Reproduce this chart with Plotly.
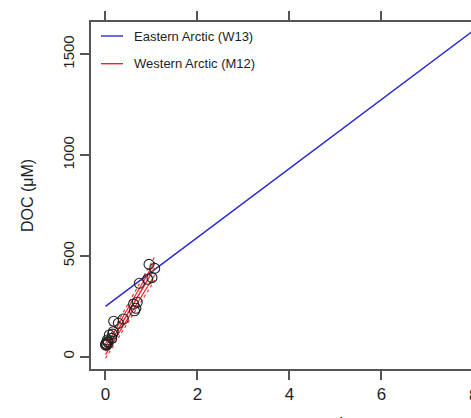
import plotly.graph_objects as go

# Observations (Western Arctic, M12)
acdom = [0.946, 1.07, 1.01, 0.917, 0.735, 0.69, 0.61, 0.63, 0.66, 0.178, 0.387, 0.28,
         0.17, 0.155, 0.083, 0.134, 0.01, 0.03, 0.05, 0.0, 0.04, 0.02, 0.06]
doc = [458, 438, 392, 384, 364, 270, 261, 228, 240, 176, 187, 166,
       124, 112, 108, 91, 66, 58, 75, 58, 83, 62, 70]

# Eastern Arctic (W13) regression line endpoints
east_x = [0.0, 8.3]
east_y = [250, 1669]

# Western Arctic (M12) regression fit and bands
west_x = [0.0, 1.07]
west_fit = [28, 440]
west_ci_lo = [10, 405]
west_ci_hi = [48, 470]
west_pi_lo = [-8, 380]
west_pi_hi = [65, 495]

x_ticks = [0, 2, 4, 6]
y_ticks = [0, 500, 1000, 1500]

W, H = 471, 418
ml, mt, mb = 91, 22, 49
pw, ph = W - ml, H - mt - mb

BLUE = "#2a2ad2"
RED = "#e8262a"
AX = "#555555"
TXT = "#1e1e1e"
FONT = "Liberation Sans, Arial, sans-serif"

fig = go.Figure()
fig.add_trace(go.Scatter(x=east_x, y=east_y, mode="lines",
                         line=dict(color=BLUE, width=1.5), showlegend=False))
for yy, dash, w in [(west_fit, "solid", 1.4), (west_ci_lo, "solid", 1.2), (west_ci_hi, "solid", 1.2),
                    (west_pi_lo, "dot", 1.1), (west_pi_hi, "dot", 1.1)]:
    fig.add_trace(go.Scatter(x=west_x, y=yy, mode="lines",
                             line=dict(color=RED, width=w, dash=dash), showlegend=False))
fig.add_trace(go.Scatter(x=acdom, y=doc, mode="markers",
                         marker=dict(symbol="circle-open", size=10, color="#222222",
                                     line=dict(width=1.1, color="#222222")),
                         showlegend=False))

fig.update_layout(
    width=W, height=H,
    margin=dict(l=ml, r=0, t=mt, b=mb),
    paper_bgcolor="white", plot_bgcolor="white",
    font=dict(family=FONT, size=14, color=TXT),
    xaxis=dict(range=[-0.315, 7.946], tickvals=x_ticks, showgrid=False, zeroline=False,
               showline=True, linecolor=AX, linewidth=2, mirror="ticks",
               ticks="outside", ticklen=9, tickwidth=1.5, tickcolor=AX,
               tickfont=dict(size=17, color=TXT)),
    yaxis=dict(range=[-61, 1660], tickvals=y_ticks, showgrid=False, zeroline=False,
               showline=True, linecolor=AX, linewidth=2, mirror=False,
               ticks="outside", ticklen=9, tickwidth=1.5, tickcolor=AX, tickangle=-90,
               tickfont=dict(size=15, color=TXT),
               title=dict(text="DOC (μM)", font=dict(size=16, color=TXT), standoff=22)),
)

def px_x(p):
    return (p - ml) / pw

def px_y(p):
    return 1 - (p - mt) / ph

# legend (no box)
for i, (name, col) in enumerate([("Eastern Arctic (W13)", BLUE), ("Western Arctic (M12)", RED)]):
    yy = 36 + i * 27.7
    fig.add_shape(type="line", xref="paper", yref="paper",
                  x0=px_x(101), x1=px_x(123), y0=px_y(yy), y1=px_y(yy),
                  line=dict(color=col, width=1.4))
    fig.add_annotation(text=name, xref="paper", yref="paper", x=px_x(132), y=px_y(yy),
                       xanchor="left", yanchor="middle", showarrow=False,
                       font=dict(size=13, color=TXT))

# partially visible tick label "8" and x-axis title (cropped)
fig.add_annotation(text="8", xref="paper", yref="paper", x=px_x(474), y=px_y(395),
                   xanchor="center", yanchor="middle", showarrow=False,
                   font=dict(size=17, color=TXT))
fig.add_annotation(text="a<sub>CDOM</sub>(350) (m<sup>-1</sup>)", xref="paper", yref="paper",
                   x=px_x(352), y=px_y(413), xanchor="right", yanchor="top", showarrow=False,
                   font=dict(size=16, color=TXT))

fig.write_html("out.html")
